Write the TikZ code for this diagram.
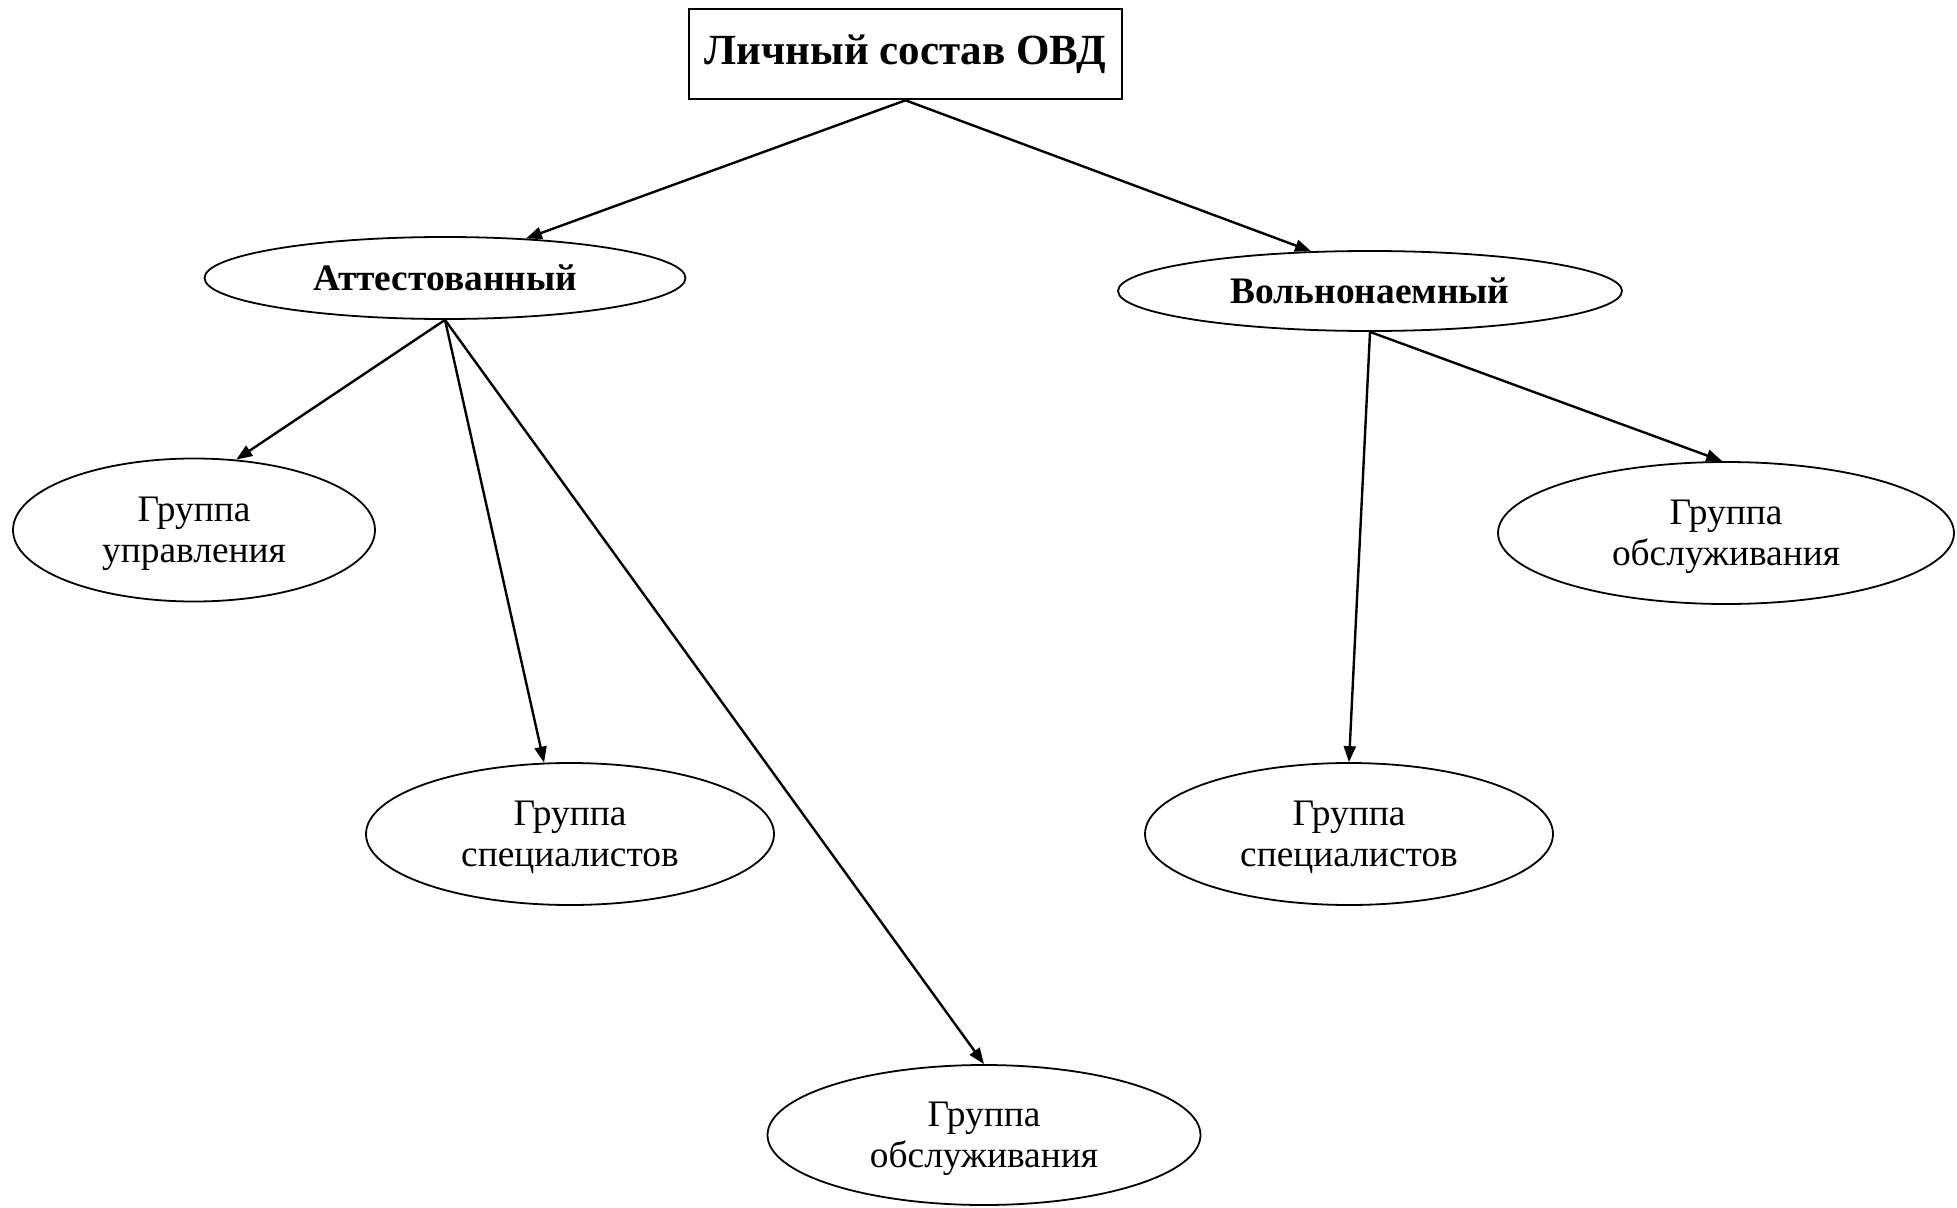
\documentclass[tikz,border=0pt]{standalone}
\usepackage{fontspec}
\setmainfont{Liberation Serif}
\usetikzlibrary{arrows.meta,shapes.geometric}

\tikzset{
  headbox/.style={draw, line width=1.3pt, rectangle, inner sep=0pt,
    minimum width=216.5pt, minimum height=45pt,
    font=\fontsize{21.5}{23}\selectfont\bfseries},
  kindoval/.style={draw, line width=0.9pt, ellipse, inner sep=0pt,
    font=\fontsize{18.7}{20.5}\selectfont\bfseries},
  groupoval/.style={draw, line width=0.9pt, ellipse, inner sep=0pt,
    align=center, text depth=0pt, font=\fontsize{18.7}{20.5}\selectfont},
  link/.style={line width=1.2pt, -{Triangle[length=8pt,width=6pt]}}
}

\begin{document}
\begin{tikzpicture}[x=0.5pt, y=-0.5pt]
  \useasboundingbox (0,0) rectangle (1957,1208);

  % root
  \node[headbox] (ovd) at (905.5,54) {Личный состав ОВД};

  % two kinds of staff
  \node[kindoval, minimum width=240.5pt, minimum height=41pt] (att) at (445,278) {Аттестованный};
  \node[kindoval, minimum width=252pt, minimum height=40pt] (voln) at (1370,291) {Вольнонаемный};

  % groups of the certified staff
  \node[groupoval, minimum width=181pt, minimum height=71.5pt] (upr) at (194,530) {Группа\\управления};
  \node[groupoval, minimum width=204pt, minimum height=71pt] (spec1) at (570,834) {Группа\\специалистов};
  \node[groupoval, minimum width=216.5pt, minimum height=70pt] (obs1) at (984,1135) {Группа\\обслуживания};

  % groups of the civilian staff
  \node[groupoval, minimum width=204pt, minimum height=71pt] (spec2) at (1349,834) {Группа\\специалистов};
  \node[groupoval, minimum width=228pt, minimum height=71pt] (obs2) at (1726,533) {Группа\\обслуживания};

  % connectors
  \draw[link] (ovd.south) -- (att.26);
  \draw[link] (ovd.south) -- (voln.146);
  \draw[link] (att.south) -- (upr.59);
  \draw[link] (att.south) -- (spec1.110);
  \draw[link] (att.south) -- (obs1.north);
  \draw[link] (voln.south) -- (spec2.north);
  \draw[link] (voln.south) -- (obs2.93);
\end{tikzpicture}
\end{document}
